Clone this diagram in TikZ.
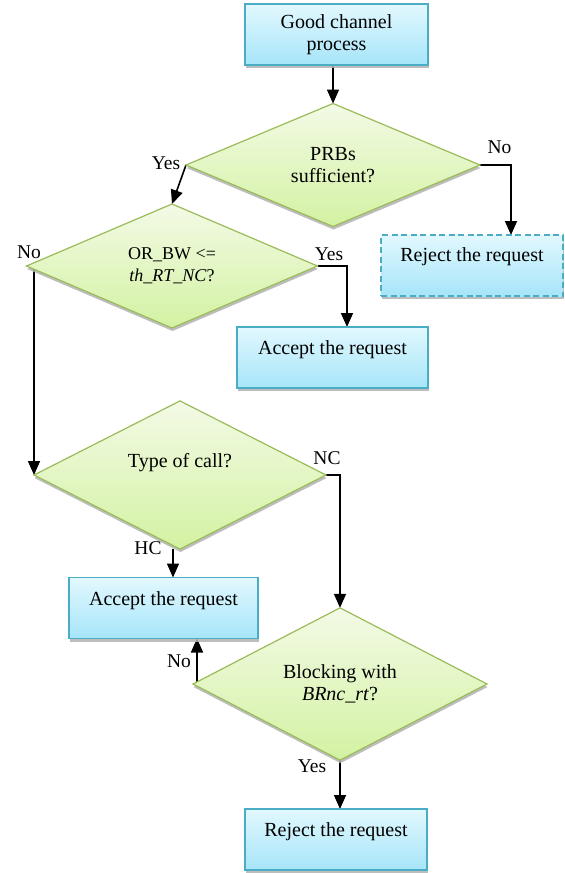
\documentclass[tikz,border=0pt]{standalone}
\usepackage{fontspec}
\setmainfont{Liberation Serif}
\usetikzlibrary{shapes.geometric,arrows.meta,shadows,calc}
\pgfdeclarelayer{bg}
\pgfsetlayers{bg,main}
\definecolor{boxline}{HTML}{4BACC6}
\definecolor{boxtop}{HTML}{E2F8FE}
\definecolor{boxbot}{HTML}{A6E5F9}
\definecolor{dline}{HTML}{9BBB59}
\definecolor{dtop}{HTML}{F3FAE6}
\definecolor{dbot}{HTML}{D3F2A2}
\begin{document}
\begin{tikzpicture}[x=1pt,y=-1pt,
  box/.style={rectangle, draw=boxline, line width=1.4pt, top color=boxtop, bottom color=boxbot,
    minimum width=#1, minimum height=61pt, inner sep=0pt, outer sep=0pt, align=center,
    font=\fontsize{20}{22}\selectfont,
    drop shadow={shadow xshift=0.5pt, shadow yshift=-3pt, fill=gray!60, opacity=0.85}},
  box/.default=183pt,
  dia/.style={diamond, draw=dline, line width=1.2pt, top color=dtop, bottom color=dbot,
    minimum width=#1, minimum height=123pt, inner sep=0pt, outer sep=0pt, align=center,
    font=\fontsize{20}{22}\selectfont,
    drop shadow={shadow xshift=0.5pt, shadow yshift=-3pt, fill=gray!60, opacity=0.85}},
  dia/.default=293pt,
  lbl/.style={font=\fontsize{19.5}{21}\selectfont, inner sep=0pt},
  arr/.style={line width=1.6pt, -{Triangle[length=14pt,width=12pt]}}
]
\useasboundingbox (0,0) rectangle (565,873);

% boxes
\node[box] (b1) at (336.5,34.5) {Good channel\\process};
\node[box=182pt, dashed, dash pattern=on 6pt off 3.5pt, text depth=21pt] (r1) at (472,265.5) {Reject the request};
\node[box=191pt, text depth=19pt] (a1) at (332.5,357.5) {Accept the request};
\node[box=189pt, text depth=19pt] (a2) at (163.5,608) {Accept the request};
\node[box=182pt, text depth=19pt] (r2) at (336,839.5) {Reject the request};

% decisions
\node[dia=294pt] (d1) at (333,165) {PRBs\\sufficient?};
\node[dia=291pt, font=\fontsize{18}{22}\selectfont] (d2) at (172,266) {OR\_BW <=\\\textit{th\_RT\_NC}?};
\node[dia=292pt, text depth=30pt] (d3) at (180,475) {Type of call?};
\node[dia=294pt, minimum height=121pt] (d4) at (340,684) {Blocking with\\\textit{BRnc\_rt}?};

% labels
\node[lbl] (l1) at (499.5,147) {No};
\node[lbl] (l2) at (166,163) {Yes};
\node[lbl] (l3) at (29,252) {No};
\node[lbl] (l4) at (329,254) {Yes};
\node[lbl] (l5) at (327,458) {NC};
\node[lbl] (l6) at (148,548) {HC};
\node[lbl] (l7) at (179,661) {No};
\node[lbl] (l8) at (312,766) {Yes};

% connectors
\begin{pgfonlayer}{bg}
\draw[arr] (d1.north |- b1.south) -- (d1.north);
\draw[arr] (d1.east) -| ($(r1.north)+(39,0)$);
\draw[arr] (d1.west) -- (d2.north);
\draw[arr] (d3.west |- d2.west) -- (d3.west);
\draw[arr] (d2.east) -| ($(a1.north)+(14.5,0)$);
\draw[arr] (d3.east) -| (d4.north);
\coordinate (hc) at ($(d3.south)+(-7,0)$);
\draw[arr] (hc) -- (hc |- a2.north);
\coordinate (nb) at ($(d4.west)+(4,0)$);
\draw[arr] (nb) -- (nb |- a2.south);
\draw[arr] (d4.south) -- (d4.south |- r2.north);
\end{pgfonlayer}
\end{tikzpicture}
\end{document}
